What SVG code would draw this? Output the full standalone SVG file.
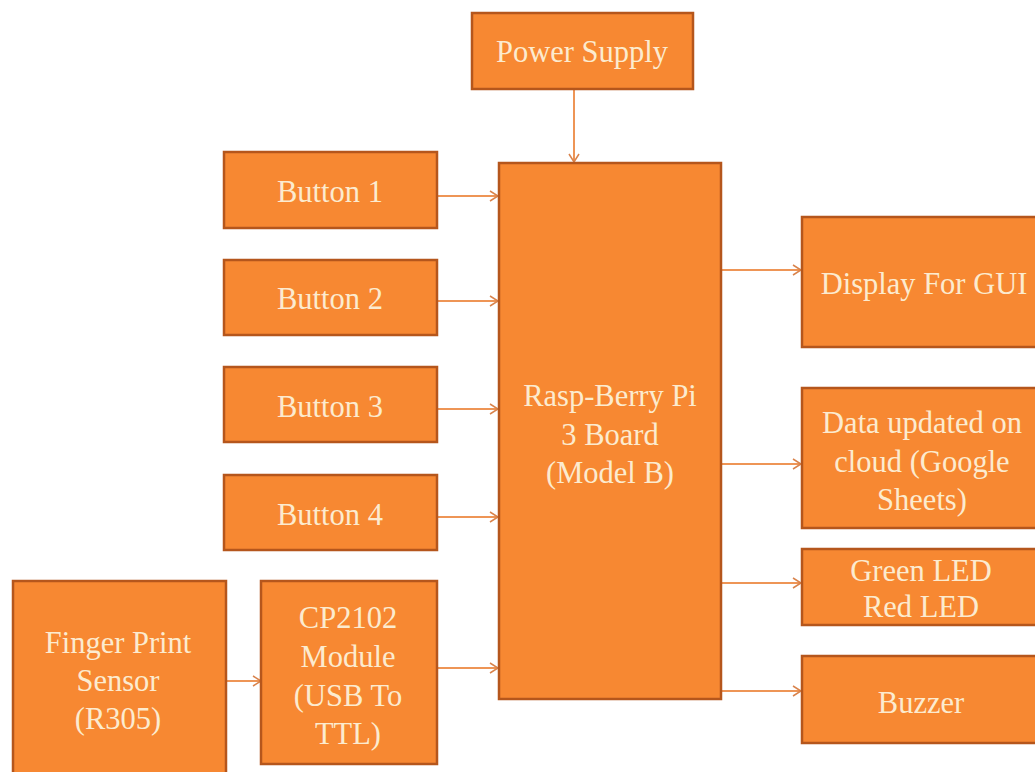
<svg xmlns="http://www.w3.org/2000/svg" width="1035" height="772" viewBox="0 0 1035 772">
<defs>
<style>
.box{fill:#F78832;stroke:#B5561C;stroke-width:2.5}
.t{font-family:"Liberation Serif","DejaVu Serif",serif;font-size:30.5px;fill:#FCEBCF;text-anchor:middle}
.c{stroke:#EE9556;stroke-width:2;fill:none;marker-end:url(#ah)}
</style>
<marker id="ah" viewBox="0 0 10 12" refX="9" refY="6" markerWidth="10" markerHeight="12" markerUnits="userSpaceOnUse" orient="auto">
<path d="M1,1 L9,6 L1,11" fill="none" stroke="#D9834C" stroke-width="1.5"/>
</marker>
</defs>
<rect width="1035" height="772" fill="#FFFFFF"/>
<g id="connectors">
<line class="c" x1="574" y1="89" x2="574" y2="162"/>
<line class="c" x1="437" y1="196" x2="498" y2="196"/>
<line class="c" x1="437" y1="301" x2="498" y2="301"/>
<line class="c" x1="437" y1="409" x2="498" y2="409"/>
<line class="c" x1="437" y1="517" x2="498" y2="517"/>
<line class="c" x1="226" y1="681" x2="261" y2="681"/>
<line class="c" x1="437" y1="668" x2="498" y2="668"/>
<line class="c" x1="721" y1="270" x2="801" y2="270"/>
<line class="c" x1="721" y1="464" x2="801" y2="464"/>
<line class="c" x1="721" y1="583" x2="801" y2="583"/>
<line class="c" x1="721" y1="691" x2="801" y2="691"/>
</g>
<g id="power"><rect class="box" x="472" y="13" width="221" height="76"/><text class="t" x="582" y="62">Power Supply</text></g>
<g id="rpi"><rect class="box" x="499" y="163" width="222" height="536"/>
<text class="t" x="610" y="406">Rasp-Berry Pi</text><text class="t" x="610" y="445">3 Board</text><text class="t" x="610" y="483">(Model B)</text></g>
<g id="b1"><rect class="box" x="224" y="152" width="213" height="76"/><text class="t" x="330" y="202">Button 1</text></g>
<g id="b2"><rect class="box" x="224" y="260" width="213" height="75"/><text class="t" x="330" y="309">Button 2</text></g>
<g id="b3"><rect class="box" x="224" y="367" width="213" height="75"/><text class="t" x="330" y="417">Button 3</text></g>
<g id="b4"><rect class="box" x="224" y="475" width="213" height="75"/><text class="t" x="330" y="525">Button 4</text></g>
<g id="fp"><rect class="box" x="13" y="581" width="213" height="200"/>
<text class="t" x="118" y="653">Finger Print</text><text class="t" x="118" y="691">Sensor</text><text class="t" x="118" y="729">(R305)</text></g>
<g id="cp"><rect class="box" x="261" y="581" width="176" height="183"/>
<text class="t" x="348" y="628">CP2102</text><text class="t" x="348" y="667">Module</text><text class="t" x="348" y="706">(USB To</text><text class="t" x="348" y="744">TTL)</text></g>
<g id="display"><rect class="box" x="802" y="217" width="250" height="130"/><text class="t" x="924" y="294">Display For GUI</text></g>
<g id="cloud"><rect class="box" x="802" y="388" width="250" height="140"/>
<text class="t" x="922" y="433">Data updated on</text><text class="t" x="922" y="472">cloud (Google</text><text class="t" x="922" y="510">Sheets)</text></g>
<g id="led"><rect class="box" x="802" y="549" width="250" height="76"/>
<text class="t" x="921" y="581">Green LED</text><text class="t" x="921" y="617">Red LED</text></g>
<g id="buzzer"><rect class="box" x="802" y="656" width="250" height="87"/><text class="t" x="921" y="713">Buzzer</text></g>
</svg>
